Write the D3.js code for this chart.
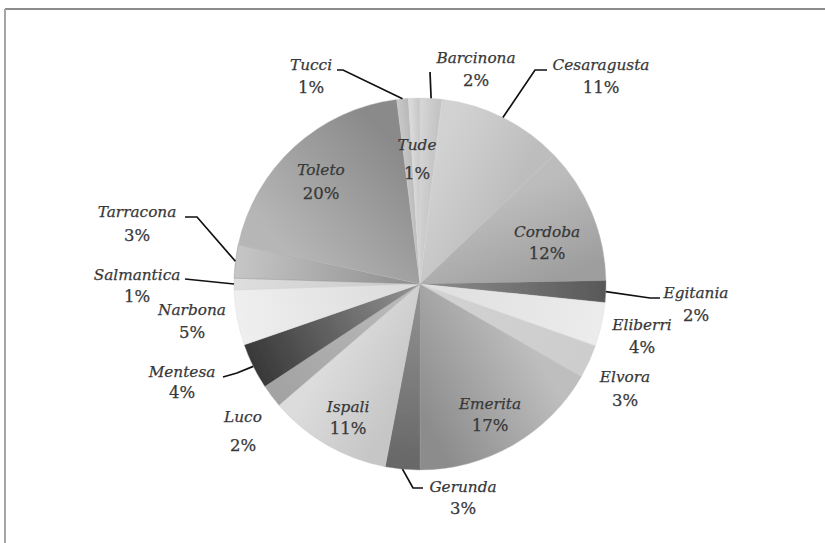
<!DOCTYPE html>
<html><head><meta charset="utf-8">
<script src="https://cdn.jsdelivr.net/npm/d3@7"></script>
<style>body{margin:0;background:#fff}svg{display:block}</style>
</head><body>
<script>
// ---- data ----
const categories = ["Barcinona","Cesaragusta","Cordoba","Egitania","Eliberri","Elvora","Emerita","Gerunda","Ispali","Luco","Mentesa","Narbona","Salmantica","Tarracona","Toleto","Tucci","Tude"];
const values = [1.9,10.9,11.9,1.9,3.8,2.9,16.7,3.0,10.7,2.0,4.0,4.8,1.0,2.9,19.6,1.0,1.0];

// ---- style / layout (not data) ----
const shades = {
  Barcinona:["#d4d4d4","#c4c4c4","a"], Cesaragusta:["#d2d2d2","#bdbdbd","a"], Cordoba:["#bcbcbc","#9e9e9e","a"],
  Egitania:["#8e8e8e","#585858","r"], Eliberri:["#dedede","#ececec","r"], Elvora:["#d2d2d2","#cdcdcd","r"],
  Emerita:["#bebebe","#8c8c8c","a"], Gerunda:["#949494","#666666","r"], Ispali:["#c6c6c6","#dcdcdc","a"],
  Luco:["#bcbcbc","#a2a2a2","r"], Mentesa:["#949494","#383838","r"], Narbona:["#dadada","#efefef","r"],
  Salmantica:["#c8c8c8","#dedede","r"], Tarracona:["#8c8c8c","#c6c6c6","r"], Toleto:["#b6b6b6","#8a8a8a","a"],
  Tucci:["#c6c6c6","#bababa","a"], Tude:["#dadada","#c8c8c8","a"]
};
// label centre positions relative to pie centre: [x, nameY, pctY], optional leader bend points
const labelLayout = {
  Barcinona:{p:[56,-226,-204], lead:[[10,-212]]},
  Cesaragusta:{p:[181,-219,-197], lead:[[115,-214],[127,-214]]},
  Cordoba:{p:[127,-52,-31]},
  Egitania:{p:[276,9,31], lead:[[230,14],[240,14]]},
  Eliberri:{p:[222,41,63]},
  Elvora:{p:[205,93,116]},
  Emerita:{p:[70,120,141]},
  Gerunda:{p:[43,203,224], lead:[[-7,204],[3,204]]},
  Ispali:{p:[-72,123,144]},
  Luco:{p:[-177,133,161]},
  Mentesa:{p:[-238,88,108], lead:[[-183,89],[-197,93]]},
  Narbona:{p:[-228,26,48]},
  Salmantica:{p:[-283,-9,12], lead:[[-235,-5]]},
  Tarracona:{p:[-283,-72,-49], lead:[[-223,-67],[-235,-67]]},
  Toleto:{p:[-99,-114,-91]},
  Tucci:{p:[-109,-219,-197], lead:[[-77,-214],[-83,-214]]},
  Tude:{p:[-3,-139,-111]}
};

const W=825,H=543,cx=420,cy=284,R=186;
const svg=d3.select("body").append("svg").attr("width",W).attr("height",H);
svg.append("rect").attr("width",W).attr("height",H).attr("fill","#fff");
// frame
svg.append("line").attr("x1",5).attr("x2",W).attr("y1",9).attr("y2",9).attr("stroke","#8c8c8c").attr("stroke-width",2);
svg.append("line").attr("x1",5).attr("x2",5).attr("y1",9).attr("y2",H).attr("stroke","#a6a6a6").attr("stroke-width",2);

const data = categories.map((c,i)=>({name:c,value:values[i]}));
const pie=d3.pie().sort(null).value(d=>d.value).startAngle(0).endAngle(2*Math.PI);
const arcs=pie(data);
const arc=d3.arc().innerRadius(0).outerRadius(R);
const pt=(r,a)=>[r*Math.sin(a),-r*Math.cos(a)];

const defs=svg.append("defs");
const f=defs.append("filter").attr("id","soft").attr("x","-10%").attr("y","-10%").attr("width","120%").attr("height","120%");
f.append("feGaussianBlur").attr("stdDeviation",0.7);

arcs.forEach((a,i)=>{
  const s=shades[a.data.name];
  let p1,p2;
  if(s[2]==="a"){p1=pt(R*0.7,a.startAngle);p2=pt(R*0.7,a.endAngle);}
  else {const m=(a.startAngle+a.endAngle)/2;p1=[0,0];p2=pt(R,m);}
  const g=defs.append("linearGradient").attr("id","g"+i).attr("gradientUnits","userSpaceOnUse")
    .attr("x1",p1[0]).attr("y1",p1[1]).attr("x2",p2[0]).attr("y2",p2[1]);
  g.append("stop").attr("offset","0%").attr("stop-color",s[0]);
  g.append("stop").attr("offset","100%").attr("stop-color",s[1]);
});

const gp=svg.append("g").attr("transform",`translate(${cx},${cy})`);
gp.append("g").attr("filter","url(#soft)").selectAll("path").data(arcs).join("path")
  .attr("d",arc).attr("fill",(d,i)=>`url(#g${i})`).attr("stroke",(d,i)=>shades[d.data.name][0]).attr("stroke-width",0.4);

// leader lines
arcs.forEach(a=>{
  const L=labelLayout[a.data.name];
  if(!L.lead) return;
  const m=(a.startAngle+a.endAngle)/2;
  const pts=[pt(R,m),...L.lead];
  gp.append("path").attr("d",d3.line()(pts)).attr("fill","none").attr("stroke","#111").attr("stroke-width",1.7);
});

// labels
const fmt=v=>Math.round(v)+"%";
arcs.forEach(a=>{
  const L=labelLayout[a.data.name].p;
  gp.append("text").attr("x",L[0]).attr("y",L[1]).attr("text-anchor","middle").attr("dominant-baseline","central")
    .attr("font-family","DejaVu Serif").attr("font-style","italic").attr("font-size",15.3).attr("fill","#383838")
    .attr("stroke","#383838").attr("stroke-width",0.25)
    .text(a.data.name);
  gp.append("text").attr("x",L[0]).attr("y",L[2]).attr("text-anchor","middle").attr("dominant-baseline","central")
    .attr("font-family","DejaVu Serif").attr("font-size",16.5).attr("fill","#383838")
    .attr("stroke","#383838").attr("stroke-width",0.25)
    .text(fmt(a.data.value));
});
</script>
</body></html>
